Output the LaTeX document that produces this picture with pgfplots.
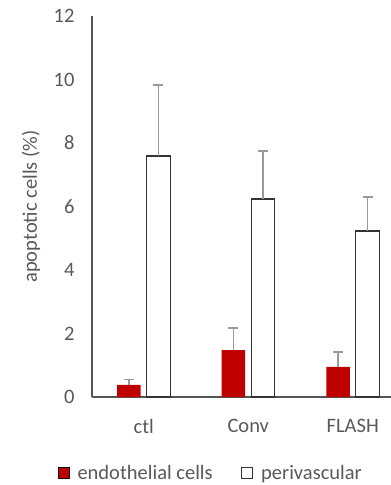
\documentclass[border=0pt]{standalone}
\usepackage{fontspec}
\setmainfont{Carlito}
\usepackage{pgfplots}
\pgfplotsset{compat=1.18}
\definecolor{txt}{HTML}{595959}
\definecolor{axl}{HTML}{555555}
\definecolor{red1}{HTML}{C00000}
\definecolor{errc}{HTML}{9A9A9A}
\newcommand\f{\fontsize{20.5}{24}\selectfont}
\begin{document}
\begin{tikzpicture}
\path[use as bounding box] (-92pt,-88pt) rectangle (299pt,397pt);
\begin{axis}[
  at={(0,0)}, anchor=south west,
  scale only axis, width=299pt, height=381pt,
  xmin=-0.495, xmax=2.366, ymin=0, ymax=12,
  ybar=6pt, bar width=23.5pt,
  xtick={0,1,2}, xticklabels={ctl,Conv,FLASH},
  ytick={0,2,...,12},
  axis x line=bottom, axis y line=left,
  axis line style={-, draw=axl, line width=1.4pt},
  major tick length=0pt,
  tick label style={font=\f, text=txt},
  /pgf/number format/assume math mode=true,
  yticklabel style={xshift=-14pt},
  xticklabel style={yshift=-19pt},
  ylabel={apoptotic cells (\%)},
  ylabel style={font=\f, text=txt, at={(axis description cs:-0.204,0.5)}, anchor=center},
  legend style={at={(0.398,-0.1995)}, anchor=center, draw=none, fill=none, font=\f, text=txt,
    legend columns=2,
    /tikz/every odd column/.append style={column sep=6pt},
    /tikz/every even column/.append style={column sep=26pt}},
  legend image code/.code={\draw[#1] (0pt,-5.5pt) rectangle (11pt,5.5pt);},
  error bars/y dir=plus, error bars/y explicit,
  error bars/error bar style={draw=errc, line width=1.9pt},
  error bars/error mark options={rotate=90, draw=errc, line width=1.9pt, mark size=5pt},
]
\addplot[fill=red1, draw=none] coordinates {(0,0.38) +- (0,0.17) (1,1.48) +- (0,0.68) (2,0.95) +- (0,0.48)};
\addplot[fill=white, draw=black!80, line width=1.4pt] coordinates {(0,7.59) +- (0,2.24) (1,6.24) +- (0,1.51) (2,5.23) +- (0,1.07)};
\legend{endothelial cells, perivascular}
\end{axis}
\end{tikzpicture}
\end{document}
